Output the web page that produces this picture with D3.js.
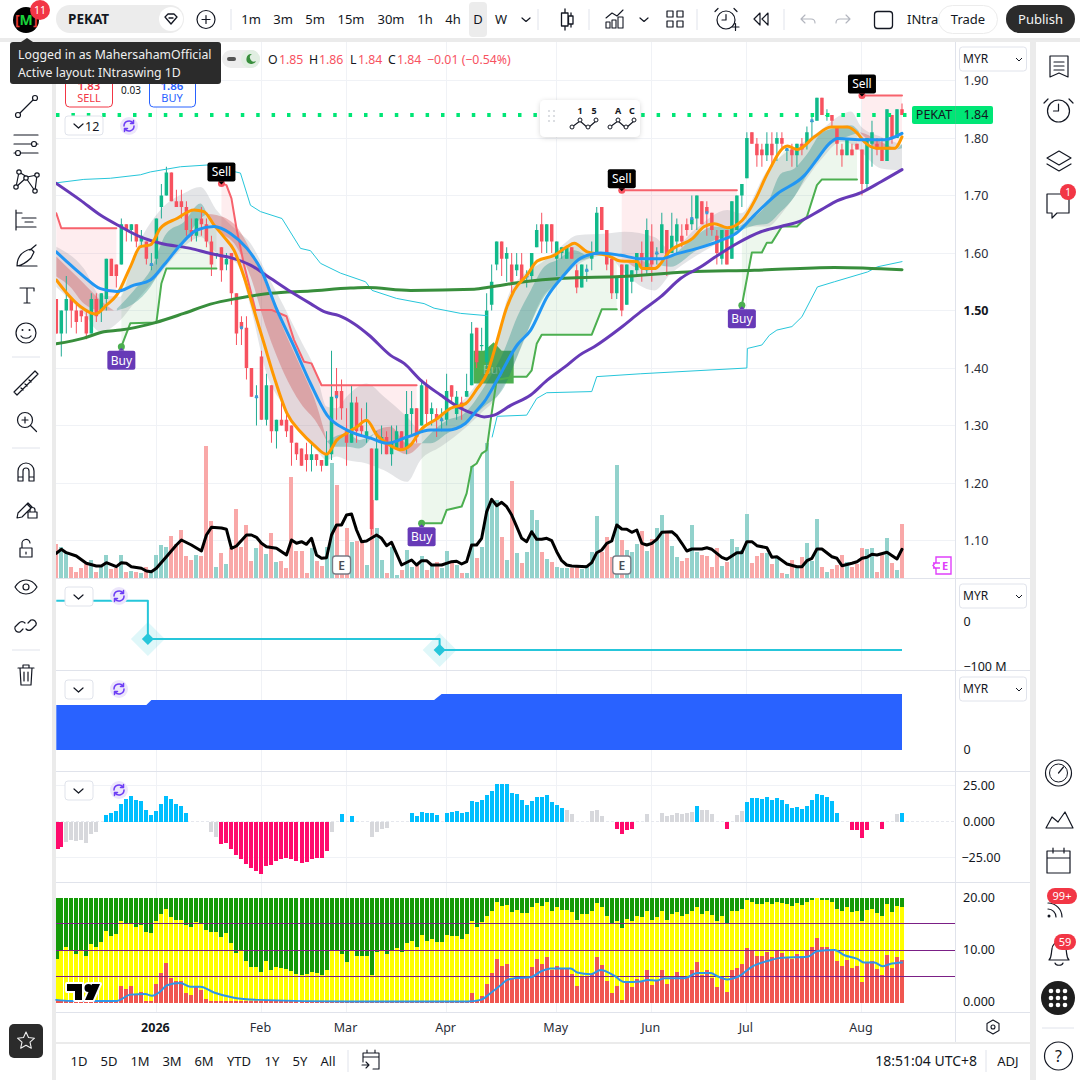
<!doctype html>
<html>
<head>
  <meta charset="utf-8">
  <style>
    html, body { margin: 0; padding: 0; background: #ebebeb; }
    svg { display: block; font-family: "Noto Sans", sans-serif; }
  </style>
  <script src="https://cdn.jsdelivr.net/npm/d3@7/dist/d3.min.js"></script>
</head>
<body>
<script>
// one value per bar
var opens = [1.52,1.46,1.50,1.52,1.50,1.50,1.49,1.46,1.52,1.50,1.52,1.59,1.58,1.58,1.65,1.64,1.65,1.62,1.62,1.58,
  1.59,1.68,1.70,1.74,1.69,1.69,1.68,1.64,1.63,1.66,1.65,1.62,1.60,1.61,1.58,1.60,1.53,1.48,1.47,1.40,
  1.35,1.42,1.31,1.37,1.29,1.31,1.31,1.30,1.27,1.26,1.25,1.24,1.25,1.24,1.23,1.25,1.36,1.36,1.29,1.27,
  1.34,1.30,1.28,1.26,1.17,1.27,1.28,1.25,1.26,1.29,1.26,1.32,1.33,1.30,1.37,1.32,1.32,1.31,1.31,1.37,
  1.32,1.34,1.35,1.37,1.47,1.44,1.41,1.51,1.58,1.62,1.59,1.58,1.57,1.58,1.56,1.56,1.61,1.65,1.62,1.65,
  1.59,1.60,1.59,1.61,1.57,1.54,1.57,1.59,1.60,1.68,1.64,1.59,1.53,1.58,1.51,1.55,1.57,1.60,1.57,1.62,
  1.60,1.60,1.64,1.60,1.62,1.63,1.65,1.65,1.66,1.69,1.68,1.67,1.63,1.59,1.64,1.59,1.64,1.70,1.73,1.81,
  1.79,1.78,1.77,1.79,1.79,1.80,1.78,1.78,1.77,1.79,1.79,1.83,1.83,1.87,1.84,1.84,1.82,1.78,1.77,1.78,
  1.79,1.78,1.72,1.79,1.79,1.78,1.76,1.84,1.80,1.85];
var highs = [1.52,1.50,1.56,1.52,1.51,1.50,1.50,1.53,1.53,1.53,1.59,1.59,1.58,1.66,1.65,1.65,1.65,1.64,1.62,1.60,
  1.66,1.72,1.75,1.74,1.71,1.71,1.69,1.66,1.66,1.68,1.66,1.63,1.60,1.61,1.60,1.60,1.53,1.49,1.49,1.40,
  1.37,1.43,1.39,1.37,1.31,1.34,1.32,1.30,1.27,1.26,1.27,1.27,1.25,1.24,1.29,1.43,1.40,1.38,1.33,1.37,
  1.35,1.33,1.34,1.26,1.29,1.30,1.29,1.30,1.30,1.29,1.36,1.36,1.33,1.38,1.38,1.34,1.33,1.33,1.39,1.37,
  1.36,1.35,1.39,1.48,1.47,1.47,1.53,1.58,1.62,1.62,1.61,1.60,1.60,1.60,1.57,1.60,1.65,1.67,1.65,1.65,
  1.62,1.61,1.61,1.61,1.58,1.58,1.58,1.62,1.68,1.68,1.64,1.59,1.56,1.58,1.58,1.57,1.60,1.62,1.66,1.65,
  1.61,1.67,1.64,1.67,1.66,1.65,1.66,1.70,1.70,1.69,1.69,1.67,1.64,1.64,1.64,1.69,1.70,1.72,1.81,1.81,
  1.80,1.79,1.81,1.81,1.81,1.81,1.78,1.79,1.79,1.80,1.82,1.84,1.87,1.87,1.85,1.84,1.82,1.79,1.80,1.79,
  1.79,1.78,1.80,1.83,1.80,1.80,1.85,1.84,1.85,1.86];
var lows = [1.46,1.42,1.46,1.47,1.46,1.48,1.45,1.46,1.48,1.48,1.50,1.56,1.54,1.58,1.62,1.62,1.61,1.61,1.58,1.57,
  1.58,1.66,1.70,1.69,1.68,1.66,1.63,1.62,1.62,1.63,1.61,1.56,1.59,1.55,1.57,1.51,1.44,1.44,1.38,1.35,
  1.30,1.31,1.30,1.27,1.26,1.30,1.28,1.23,1.24,1.23,1.22,1.22,1.23,1.22,1.23,1.24,1.31,1.31,1.23,1.27,
  1.27,1.28,1.27,1.11,1.17,1.25,1.25,1.23,1.26,1.26,1.25,1.28,1.27,1.30,1.30,1.30,1.28,1.29,1.30,1.34,
  1.31,1.31,1.35,1.37,1.40,1.43,1.40,1.50,1.57,1.56,1.55,1.53,1.56,1.55,1.54,1.55,1.61,1.60,1.60,1.60,
  1.56,1.59,1.59,1.59,1.53,1.54,1.55,1.57,1.60,1.64,1.57,1.52,1.52,1.49,1.51,1.53,1.56,1.55,1.56,1.55,
  1.58,1.60,1.56,1.60,1.60,1.61,1.63,1.64,1.64,1.65,1.63,1.63,1.58,1.58,1.58,1.59,1.64,1.68,1.73,1.79,
  1.75,1.75,1.76,1.75,1.76,1.78,1.76,1.75,1.75,1.77,1.78,1.80,1.83,1.84,1.83,1.82,1.77,1.75,1.77,1.77,
  1.78,1.70,1.71,1.75,1.77,1.76,1.76,1.79,1.80,1.84];
var closes = [1.46,1.50,1.52,1.50,1.48,1.49,1.46,1.52,1.49,1.53,1.59,1.56,1.56,1.65,1.64,1.65,1.62,1.63,1.59,1.58,
  1.66,1.70,1.74,1.69,1.68,1.68,1.64,1.63,1.66,1.65,1.62,1.58,1.60,1.57,1.59,1.53,1.46,1.47,1.40,1.35,
  1.35,1.31,1.37,1.29,1.31,1.30,1.29,1.27,1.25,1.23,1.24,1.25,1.24,1.23,1.25,1.35,1.35,1.33,1.27,1.34,
  1.29,1.29,1.29,1.12,1.26,1.28,1.25,1.27,1.29,1.26,1.32,1.33,1.28,1.37,1.32,1.33,1.31,1.31,1.36,1.35,
  1.35,1.33,1.36,1.46,1.41,1.44,1.50,1.55,1.62,1.59,1.60,1.55,1.58,1.55,1.56,1.60,1.64,1.62,1.65,1.62,
  1.62,1.61,1.61,1.59,1.54,1.58,1.57,1.60,1.67,1.64,1.58,1.53,1.56,1.50,1.58,1.57,1.60,1.59,1.64,1.58,
  1.60,1.65,1.59,1.63,1.65,1.62,1.64,1.66,1.70,1.65,1.67,1.64,1.60,1.64,1.58,1.69,1.70,1.72,1.80,1.79,
  1.77,1.77,1.79,1.77,1.80,1.79,1.78,1.77,1.79,1.78,1.81,1.83,1.87,1.84,1.84,1.83,1.79,1.77,1.80,1.77,
  1.78,1.72,1.80,1.81,1.78,1.76,1.85,1.80,1.85,1.84];
var volumes = [34,31,26,11,6,10,14,18,6,11,23,9,10,23,6,7,6,5,11,5,23,33,31,42,34,48,22,18,23,22,
  132,57,11,25,14,30,69,31,53,17,30,35,24,45,16,17,10,101,27,27,5,30,17,12,31,115,93,20,50,36,
  37,36,13,78,50,18,5,31,3,8,28,11,13,22,8,12,16,10,27,16,13,5,5,112,20,31,135,78,78,41,
  18,97,25,15,26,68,58,26,19,16,11,10,10,10,12,9,13,26,62,26,41,21,113,38,28,26,34,47,27,39,
  50,63,45,32,21,17,20,53,26,23,22,11,30,12,16,39,31,28,64,15,22,25,25,14,20,5,4,18,10,21,
  35,17,59,11,6,9,13,23,16,11,14,30,29,30,6,23,40,15,8,54];

// [bar, value] readings of the overlay lines
var blackLine = [[0,24.7],[1,28.7],[2,25.3],[4,22],[6,14.7],[8,12],[9,12],[10,15.3],[12,11.3],[13,15.3],[14,14.7],[15,11.3],[17,9.7],[18,7],[19,6.3],[20,9.7],[22,21.3],[24,33],[25,38],[27,33],[29,27],[30,43],[31,50.7],[33,50],[34,48.7],[35,29.7],[36,32],[38,43],[39,43],[40,40.7],[41,34.7],[42,31.3],[44,29.7],[46,23],[47,38],[48,34.7],[49,36.3],[50,33.7],[51,39.7],[52,23],[53,19.7],[54,20.3],[55,43],[56,53],[57,53],[58,63],[59,64],[60,48],[61,36.3],[62,37],[64,43],[65,39.7],[66,32.3],[67,35.7],[69,13],[71,18],[72,13],[73,17.3],[74,17.3],[75,13],[77,13],[79,16.3],[80,16.7],[81,14],[82,16.3],[83,33],[84,33],[85,39.7],[86,66.3],[87,78.7],[88,72.3],[89,75.7],[90,71.3],[91,63],[92,51.3],[93,39.7],[94,36.3],[95,46.3],[96,38.7],[97,38.7],[98,39.7],[99,37.3],[100,26.3],[101,17.3],[102,13],[103,12],[106,11.3],[107,15.3],[108,25.3],[109,28],[110,34.7],[111,37],[112,53],[113,49],[114,48.7],[115,45.7],[116,48],[117,34.7],[118,33],[119,34.7],[120,38.7],[121,45.7],[123,46.3],[124,42],[125,34.7],[126,27],[127,29],[129,29],[130,30.3],[131,28.7],[133,20.7],[134,18.7],[136,25.3],[137,25.3],[138,36.3],[139,36.3],[140,32.3],[142,30.3],[143,20.7],[144,21.3],[146,14],[148,11.3],[149,11.3],[150,17.3],[151,19.7],[152,29],[153,29],[155,21.3],[156,19.7],[157,12.3],[159,14.7],[160,16.3],[161,19.7],[162,20.7],[163,23.7],[164,23],[166,25.7],[168,19],[169,28.7]];
var purpleLine = [[0,1.721],[4.8,1.692],[8.8,1.666],[12.8,1.646],[16.8,1.628],[20.8,1.617],[26.8,1.608],[30.8,1.599],[34.8,1.592],[38.8,1.579],[42.8,1.556],[46.8,1.533],[50.8,1.512],[53.8,1.497],[56.5,1.491],[59.5,1.477],[62.5,1.457],[66.8,1.422],[69.5,1.408],[72.8,1.379],[76.8,1.353],[80.8,1.33],[83.5,1.32],[85.5,1.315],[87.5,1.318],[90.8,1.335],[94.8,1.353],[98.1,1.379],[102.1,1.405],[104.5,1.422],[107.5,1.437],[112.8,1.47],[116.8,1.498],[120.8,1.524],[124.8,1.556],[128.8,1.576],[131.5,1.592],[136.1,1.617],[140.8,1.637],[144.8,1.646],[148.8,1.656],[152.8,1.675],[156.1,1.691],[160.8,1.705],[164.8,1.724],[169,1.745]];
var orangeLine = [[0,1.553],[2.1,1.53],[4.8,1.507],[7.8,1.494],[10.1,1.51],[12.1,1.527],[14.8,1.576],[16.8,1.611],[18.8,1.614],[20.8,1.643],[24.1,1.66],[27.5,1.675],[29.5,1.672],[31.5,1.649],[33.5,1.628],[35.5,1.605],[37.5,1.559],[39.5,1.501],[41.5,1.443],[43.5,1.385],[46.1,1.321],[48.8,1.289],[51.5,1.266],[54,1.25],[56.1,1.275],[58.1,1.287],[60.1,1.298],[62,1.309],[64.1,1.283],[66.1,1.269],[68.8,1.258],[70.8,1.266],[72.8,1.292],[76.1,1.312],[78.8,1.33],[81.8,1.338],[84.1,1.364],[86.1,1.391],[88.1,1.448],[89.8,1.5],[91.5,1.535],[94.1,1.562],[96.1,1.586],[99.5,1.596],[102.1,1.611],[103.5,1.617],[106.1,1.602],[110.1,1.596],[112.8,1.586],[116.1,1.585],[117.1,1.573],[119.5,1.573],[122.8,1.605],[127.1,1.625],[129.5,1.646],[131.5,1.651],[134.1,1.644],[137.1,1.657],[139.8,1.695],[142.1,1.738],[146.1,1.786],[148.1,1.78],[151.5,1.802],[154.8,1.819],[158.1,1.819],[160.1,1.808],[161.5,1.793],[164.1,1.782],[167.5,1.782],[169,1.802]];
var blueLine = [[0,1.602],[2.1,1.585],[5.5,1.559],[8.8,1.538],[12.1,1.533],[15.5,1.544],[18.8,1.553],[21.5,1.579],[24.8,1.614],[28.1,1.64],[31.5,1.646],[34.8,1.634],[38.1,1.608],[40.8,1.573],[44.1,1.501],[47.5,1.437],[50.8,1.373],[54.1,1.318],[58.1,1.292],[62.8,1.278],[66.1,1.269],[70.1,1.28],[74.8,1.292],[78.1,1.292],[81.8,1.304],[83.5,1.321],[85.5,1.341],[88.1,1.379],[92.1,1.44],[94.8,1.466],[98.1,1.524],[101.5,1.562],[104.8,1.591],[108.8,1.6],[112.8,1.596],[116.8,1.59],[120.8,1.59],[124.1,1.599],[128.1,1.608],[132.8,1.622],[135.8,1.634],[139.5,1.666],[144.1,1.703],[149.5,1.735],[152.1,1.764],[154.8,1.793],[156.1,1.799],[161.5,1.797],[165.5,1.797],[169,1.808]];
var darkGreenLine = [[0,1.442],[5.5,1.452],[9.5,1.463],[12.8,1.466],[19.8,1.479],[25.5,1.495],[30.8,1.511],[36.1,1.521],[42.8,1.53],[50.8,1.534],[58.8,1.539],[62,1.54],[70.8,1.535],[83.5,1.537],[86.8,1.541],[93.5,1.55],[101.5,1.556],[112.8,1.559],[126.1,1.567],[139.5,1.57],[155.5,1.575],[169,1.571]];
var cyanUpper = [[0,1.722],[5.5,1.728],[10.8,1.73],[16.8,1.736],[18.8,1.741],[24.8,1.75],[30.1,1.753],[36.8,1.739],[38.8,1.683],[40.8,1.672],[45.1,1.66],[48.8,1.608],[50.8,1.604],[52.8,1.582],[56.8,1.565],[61.8,1.55],[63.1,1.535],[68,1.521],[73.5,1.512],[75.5,1.504],[80.8,1.495],[86.1,1.491]];
var cyanLower = [[87.1,1.28],[88.1,1.316],[94,1.318],[96,1.347],[98,1.357],[107,1.359],[108,1.385],[116.8,1.39],[138,1.40],[138.1,1.434],[141,1.44],[142.5,1.457],[144,1.466],[147,1.472],[149,1.489],[152.1,1.541],[155.5,1.55],[162.1,1.567],[164.1,1.576],[169,1.585]];

// trailing stops after each signal
var greenStop1 = [[13,1.437],[14.8,1.478],[20,1.479],[21,1.547],[22,1.573],[32,1.573]];
var greenStop2 = [[73,1.13],[77,1.13],[78,1.153],[81,1.159],[82,1.182],[83,1.228],[84,1.234],[85,1.251],[86,1.257],[87,1.321],[88,1.379],[91.5,1.385],[94,1.385],[95,1.396],[96,1.442],[97,1.458],[107,1.458],[109,1.502],[112,1.502]];
var greenStop3 = [[137,1.509],[139,1.601],[141,1.601],[142,1.618],[143,1.618],[145,1.646],[148,1.646],[150,1.663],[152,1.718],[153,1.728],[160,1.728]];
var redStop1 = [[0,1.669],[1,1.643],[12,1.643]];
var redStop2 = [[33,1.721],[34,1.718],[35,1.695],[36,1.643],[37.5,1.58],[39.8,1.501],[43,1.501],[46,1.49],[47.5,1.449],[49.5,1.411],[51,1.408],[53,1.37],[72,1.37]];
var redStop3 = [[113,1.709],[136,1.709]];
var redStop4 = [[161,1.874],[169,1.874]];

// [bar, upper, lower] of the ribbons
var grayBand = [[0,1.611,1.541],[5.5,1.573,1.495],[8.8,1.527,1.463],[12.8,1.524,1.483],[15.5,1.596,1.512],[20.8,1.675,1.565],[25.5,1.704,1.611],[28.8,1.715,1.628],[32,1.675,1.6],[36,1.64,1.582],[38.8,1.617,1.507],[42,1.565,1.391],[45.5,1.507,1.333],[48.8,1.449,1.286],[52,1.391,1.257],[54,1.333,1.24],[56,1.33,1.246],[58,1.35,1.24],[62,1.373,1.234],[65.5,1.35,1.222],[70.1,1.315,1.202],[72.8,1.292,1.24],[76.8,1.321,1.263],[82,1.35,1.298],[84.8,1.385,1.321],[88.1,1.448,1.35],[90,1.518,1.379],[93.5,1.564,1.448],[96.8,1.582,1.518],[100.8,1.611,1.553],[104.1,1.631,1.579],[110.1,1.634,1.596],[113.5,1.637,1.565],[119.5,1.628,1.535],[122.8,1.605,1.564],[127.5,1.64,1.593],[134.1,1.675,1.628],[136.8,1.669,1.646],[142.1,1.744,1.646],[145.5,1.773,1.675],[148.8,1.79,1.715],[152.8,1.814,1.762],[156.8,1.84,1.793],[158.8,1.846,1.79],[160.8,1.82,1.776],[164.8,1.802,1.747],[169,1.788,1.744]];
var tealBands = [
  [[12.1,1.503,1.5],[15.5,1.535,1.512],[18.8,1.57,1.541],[22,1.634,1.588],[25.5,1.654,1.62],[28.8,1.686,1.66],[30.1,1.668,1.668]],
  [[54.1,1.272,1.272],[55.5,1.28,1.263],[58.1,1.286,1.263],[60.5,1.275,1.26],[63.5,1.286,1.286]],
  [[73,1.269,1.269],[74.8,1.286,1.269],[78.1,1.309,1.286],[81.5,1.321,1.304],[85.5,1.367,1.333],[89.5,1.431,1.367],[92.1,1.489,1.42],[94.8,1.535,1.477],[97.5,1.576,1.524],[100.1,1.588,1.547],[103.5,1.605,1.582],[106.1,1.596,1.59],[107.5,1.594,1.594]],
  [[120,1.58,1.58],[122.8,1.593,1.576],[127.5,1.628,1.602],[131.5,1.646,1.622],[134.8,1.644,1.632],[139.5,1.663,1.648],[142.1,1.686,1.651],[144.8,1.738,1.672],[147.5,1.747,1.698],[150.1,1.773,1.738],[152.8,1.808,1.773],[155.5,1.817,1.793],[158.8,1.822,1.805],[160.5,1.81,1.81]],
  [[168,1.78,1.78],[169,1.79,1.782]]
];
var redBands = [
  [[0,1.594,1.559],[2.8,1.57,1.541],[5.5,1.547,1.512],[8.8,1.518,1.5],[11.5,1.5,1.5]],
  [[30.1,1.668,1.668],[32,1.666,1.643],[36,1.646,1.611],[38.8,1.605,1.559],[42.1,1.541,1.466],[45.5,1.466,1.391],[48.8,1.402,1.339],[52.1,1.333,1.304],[54.1,1.272,1.272]],
  [[63.5,1.286,1.286],[64.1,1.292,1.275],[66.8,1.298,1.263],[70.1,1.269,1.25],[73,1.269,1.269]],
  [[114,1.585,1.585],[116.1,1.588,1.575],[119,1.58,1.575]],
  [[160.5,1.81,1.81],[161.5,1.808,1.802],[164.8,1.793,1.779],[168,1.78,1.78]]
];

// pane values
var cvdSteps = [[0,47],[18.3,-38],[76.6,-62],[169,-62]];
var blueArea = [[0,45],[18,45],[19,50],[75.5,50],[77,56],[169,56]];
var momentum = [-19.4,-17.4,-13.9,-12.5,-13.2,-12.5,-14.6,-9,-7.6,0,4.2,5.6,7.6,12.5,15.3,17.4,14.6,13.9,8.3,4.2,
  7.6,12.5,17.4,15.3,12.5,11.1,5.6,0,0,0,0,-7.6,-11.1,-15.3,-14.6,-18.8,-23.6,-25.7,-29.2,-32.6,
  -34.7,-36.8,-30.6,-29.9,-27.1,-25.7,-25,-25.7,-27.1,-28.5,-27.8,-25.7,-25,-25,-20.8,-7.6,0,4.9,0,3.5,
  0,0,0,-11.1,-7.6,-4.9,-4.2,0,0,0,0,5.6,3.5,6.9,5.6,5.6,4.2,0,5.6,6.9,
  7.6,5.6,6.9,13.9,13.2,14.6,18.1,21.5,25.7,25.7,25.7,20.1,18.8,14.6,11.8,13.9,16.7,16.7,18.1,13.2,
  11.8,9.7,8.3,4.9,0,0,0,7.6,8.3,3.5,0,0,-4.9,-9,-6.2,-4.9,0,0,4.9,0,
  0,5.6,3.5,4.2,6.2,4.9,5.6,6.9,11.1,8.3,8.3,4.9,0,0,-4.9,0,4.2,7.6,13.2,16,
  16,15.3,16.7,14.6,16,14.6,12.5,9.7,10.4,9,11.1,14.6,19.4,18.1,16.7,13.9,6.2,0,0,-5.6,
  -6.2,-11.8,-6.2,0,0,-4.9,0,0,4.9,5.6];
var momentumRed = [0,1,33,34,35,36,37,38,39,40,41,42,43,44,45,46,47,48,49,50,51,52,53,54,112,113,114,115,134,159,160,161,162,165];
var momentumGray = [2,3,4,5,6,7,8,31,32,55,63,64,65,66,102,103,107,108,109,118,121,122,123,124,125,126,127,129,130,131,136,137,168];
var stackYellow = [8.3,9.8,10.5,10,9.3,9.8,8.8,11.1,10.5,11.5,13.6,12.6,13.1,15.5,15.1,15.2,14.3,14.7,13.4,13.2,
  15.6,16.8,17.9,16.2,15.8,15.8,14.7,14.3,15.3,15.1,13.9,13.4,13.4,12.4,13.2,11.3,9.4,9.8,7.9,6.8,
  6.8,5.8,7.9,6.2,6.8,6.6,6.4,6,5.4,5.2,5.4,5.8,5.6,5.2,6.2,9.8,9.8,9.2,7.7,10,
  8.8,8.8,8.8,5.2,9.6,9.8,9.2,9.8,10.3,9.6,11.3,11.7,10.5,12.8,11.7,12.1,11.5,11.5,12.8,12.6,
  12.6,12.1,13,15.5,14.3,15.3,16.4,17.5,19.1,18.3,18.5,17.2,17.7,17,17,18.1,18.9,18.3,19.1,17.5,
  18.1,17.7,17.7,17.2,15.8,16.8,16.8,17.4,18.9,18.1,16.4,15.1,15.6,14.1,16,15.6,16.4,16.2,17.4,15.8,
  16.2,17.4,15.8,16.8,17.2,16.4,16.8,17.4,18.1,16.8,17.4,16.6,15.5,16.4,15.1,17.4,17.5,17.9,19.6,19.2,
  18.7,18.7,19.1,18.7,19.1,18.9,18.7,18.3,18.9,18.5,19.2,19.6,20,19.6,19.6,19.2,17.9,17.4,18.1,17.2,
  17.5,15.6,17.7,17.9,17,16.4,18.7,17.2,18.3,18.1];
var stackRed = [0.5,0.2,0.2,0.2,0.2,0.2,0.2,0.2,0.2,0.2,0.2,0.2,0.2,3.2,2.6,3.2,1.5,2,0.2,0.2,
  3.5,5.6,7.5,4.7,4.1,4.1,1.8,1.5,3.2,2.4,0.7,0.2,0.2,0.2,0.2,0.2,0.2,0.2,0.2,0.2,
  0.2,0.2,0.2,0.2,0.2,0.2,0.2,0.2,0.2,0.2,0.2,0.2,0.2,0.2,0.2,0.2,0.2,0.2,0.2,0.2,
  0.2,0.2,0.2,0.2,0.2,0.2,0.2,0.2,0.2,0.2,0.2,0.2,0.2,0.2,0.2,0.2,0.2,0.2,0.2,0.2,
  0.2,0.2,0.2,1.8,0.2,1.3,3.5,5.6,8.3,6.9,7.3,4.7,4.9,5,4.7,6.8,8.3,7.3,8.6,6.2,
  6.9,6.6,6.6,5.4,3.2,4.9,4.9,5.4,8.6,7.1,4.1,1.8,3.2,0.5,3.9,3,4.5,3.9,6.2,3.3,
  4.1,6.2,3.5,5,5.8,4.9,5,6.2,7.7,5.2,6.2,4.7,3,4.9,2,6.2,6.6,7.3,10.3,9.8,
  8.8,8.8,9.6,8.6,9.8,9.4,8.6,8.3,9.2,8.8,9.8,10.5,12.2,10.5,10.5,10,7.9,6.9,8.1,6.6,
  6.9,3.9,7.5,7.9,6.4,5.2,9,6.6,8.6,8.1];
var stackLine = [[0,0.5],[2.8,0.3],[12.1,0.3],[14.8,1.5],[17.8,1.6],[19.1,1.3],[20.8,2.1],[22.1,3.3],[24.8,3.7],[26.8,3],[28.8,3],[31.5,1.9],[35.5,0.9],[40.1,0.5],[58.8,0.2],[82.1,0.2],[84.8,0.5],[86.8,1.8],[88.8,3.3],[90.1,4.3],[91.5,4.6],[94.8,4.8],[96.8,5.9],[98.8,6.5],[102.8,6.5],[104.1,5.7],[106.8,5.4],[108.8,6.2],[111.5,5.1],[113.5,3.9],[116.8,4],[118.1,4.3],[120.1,4.2],[121.5,4.6],[125.5,4.6],[128.1,5.6],[130.8,5.6],[132.1,5],[134.1,4.4],[136.8,5.2],[138.8,6.7],[142.1,7.9],[144.8,8.5],[150.1,8.7],[152.1,9.8],[155.5,10],[157.5,9],[160.1,8.3],[161.5,7.6],[163.5,7.6],[165.1,6.9],[166.5,7.3],[169,7.6]];

// axes and markers
var priceTicks = [1.9,1.8,1.7,1.6,1.5,1.4,1.3,1.2,1.1];
var monthBars = [20,41,58,78,100,119,138,161];
var monthLabels = ["2026","Feb","Mar","Apr","May","Jun","Jul","Aug"];
var stackLevels = [15,10,5];
var sellBars = [33,113,161];
var sellPrices = [1.721,1.709,1.874];
var buyBars = [13,73,137];
var buyPrices = [1.437,1.13,1.509];
var earningsBars = [57,113];
var dojiBars = [19,37,40,56,77,94,106,120,127,130,146,151];
var lastPrice = 1.84;

var W = 1080, H = 1080, LEFT = 56, AXIS = 955, RIGHT = 1030;
var INK = "#131722";

var svg = d3.select("body").append("svg").attr("width", W).attr("height", H);

var x = d3.scaleLinear().domain([0, 169]).range([56.3, 902]);
var yPrice = d3.scaleLinear().domain([1.8, 1.1]).range([138, 540.5]);
var yVol = d3.scaleLinear().domain([0, 150]).range([578, 428]);
var yCvd = d3.scaleLinear().domain([0, -100]).range([622, 667]);
var yArea = d3.scaleLinear().domain([0, 100]).range([750, 650]);
var yMom = d3.scaleLinear().domain([25, -25]).range([785.5, 857.5]);
var yStack = d3.scaleLinear().domain([0, 20]).range([1002.5, 897.5]);

// background and panels
svg.append("rect").attr("width", W).attr("height", H).attr("fill", "#ebebeb");
function panel(a, b, c, d) {
  svg.append("rect").attr("x", a).attr("y", b).attr("width", c - a).attr("height", d - b).attr("fill", "#fff");
}
panel(0, 0, W, 38);
panel(0, 42, 52, H);
panel(LEFT, 42, RIGHT, 1042);
panel(LEFT, 1044, RIGHT, H);
panel(1036, 42, W, H);

var defs = svg.append("defs");
defs.append("clipPath").attr("id", "plot").append("rect").attr("x", LEFT).attr("y", 42).attr("width", AXIS - LEFT).attr("height", 536);
var shadow = defs.append("filter").attr("id", "soft").attr("x", "-20%").attr("y", "-30%").attr("width", "140%").attr("height", "160%");
shadow.append("feDropShadow").attr("dx", 0).attr("dy", 1).attr("stdDeviation", 2.5).attr("flood-color", "#000").attr("flood-opacity", 0.16);

// grid
var grid = svg.append("g").attr("stroke", "#f0f2f6").attr("stroke-width", 1).attr("shape-rendering", "crispEdges");
monthBars.forEach(function(b) {
  grid.append("line").attr("x1", x(b)).attr("x2", x(b)).attr("y1", 42).attr("y2", 1012);
});
priceTicks.forEach(function(p) {
  grid.append("line").attr("x1", LEFT).attr("x2", AXIS).attr("y1", yPrice(p)).attr("y2", yPrice(p));
});
[25, -25].forEach(function(v) {
  grid.append("line").attr("x1", LEFT).attr("x2", AXIS).attr("y1", yMom(v)).attr("y2", yMom(v));
});
var seps = svg.append("g").attr("stroke", "#e0e3eb");
[578.5, 670.5, 771.5, 882.5, 1012.5].forEach(function(v) {
  seps.append("line").attr("x1", LEFT).attr("x2", RIGHT).attr("y1", v).attr("y2", v);
});
seps.append("line").attr("x1", AXIS + 0.5).attr("x2", AXIS + 0.5).attr("y1", 42).attr("y2", 1042);

var plot = svg.append("g").attr("clip-path", "url(#plot)");
var bars = d3.range(opens.length);
var lineOf = function(scale, curve) {
  return d3.line().x(function(d) { return x(d[0]); }).y(function(d) { return scale(d[1]); }).curve(curve || d3.curveMonotoneX);
};
function drawLine(target, data, scale, color, width, curve) {
  return target.append("path").datum(data).attr("fill", "none").attr("stroke", color).attr("stroke-width", width)
    .attr("stroke-linejoin", "round").attr("stroke-linecap", "round").attr("d", lineOf(scale, curve));
}

// volume
plot.append("g").attr("shape-rendering", "crispEdges").selectAll("rect").data(bars).enter().append("rect")
  .attr("x", function(i) { return x(i) - 2; }).attr("width", 4)
  .attr("y", function(i) { return yVol(volumes[i]); })
  .attr("height", function(i) { return yVol(0) - yVol(volumes[i]); })
  .attr("fill", function(i) { return closes[i] >= opens[i] ? "#92d2cc" : "#f9a8a8"; });

// signal fills between the stop and the fast line
var orangeAt = d3.scaleLinear().domain(orangeLine.map(function(d) { return d[0]; })).range(orangeLine.map(function(d) { return d[1]; }));
function stopFill(stop, color) {
  var stopAt = d3.scaleLinear().domain(stop.map(function(d) { return d[0]; })).range(stop.map(function(d) { return d[1]; }));
  var xs = d3.merge([stop.map(function(d) { return d[0]; }), d3.range(stop[0][0], stop[stop.length - 1][0])]).sort(d3.ascending);
  plot.append("path").datum(xs).attr("fill", color)
    .attr("d", d3.area().x(function(d) { return x(d); })
      .y0(function(d) { return yPrice(stopAt(d)); })
      .y1(function(d) { return yPrice(orangeAt(d)); }));
}
stopFill(greenStop1, "rgba(76,175,80,0.1)");
stopFill(greenStop2, "rgba(76,175,80,0.1)");
stopFill(greenStop3, "rgba(76,175,80,0.1)");
stopFill(redStop1, "rgba(247,82,95,0.1)");
stopFill(redStop2, "rgba(247,82,95,0.1)");
stopFill(redStop3, "rgba(247,82,95,0.1)");
stopFill(redStop4, "rgba(247,82,95,0.1)");

// large flat buy label that sits under the ribbons
var bigBuy = plot.append("g");
bigBuy.append("path").attr("fill", "#4caf50").attr("d", d3.line()([
  [x(83.4), yPrice(1.43)], [x(85.5), yPrice(1.43)], [x(87.4), yPrice(1.445)], [x(89), yPrice(1.43)],
  [x(91.4), yPrice(1.43)], [x(91.4), yPrice(1.373)], [x(83.4), yPrice(1.373)]]) + "Z");
bigBuy.append("text").attr("x", x(87.4)).attr("y", yPrice(1.39)).attr("text-anchor", "middle").attr("font-size", 12)
  .attr("fill", "rgba(255,255,255,0.45)").text("Buy");

// ribbons
var band = d3.area().x(function(d) { return x(d[0]); }).y0(function(d) { return yPrice(d[2]); }).y1(function(d) { return yPrice(d[1]); }).curve(d3.curveMonotoneX);
plot.append("path").datum(grayBand).attr("fill", "rgba(120,123,134,0.2)").attr("d", band);
tealBands.forEach(function(b) { plot.append("path").datum(b).attr("fill", "rgba(8,130,120,0.3)").attr("d", band); });
redBands.forEach(function(b) { plot.append("path").datum(b).attr("fill", "rgba(200,50,50,0.3)").attr("d", band); });

// candles
var candles = plot.selectAll(".candle").data(bars).enter().append("g");
candles.append("line")
  .attr("x1", function(i) { return x(i); }).attr("x2", function(i) { return x(i); })
  .attr("y1", function(i) { return yPrice(highs[i]); }).attr("y2", function(i) { return yPrice(lows[i]); })
  .attr("stroke", function(i) { return closes[i] >= opens[i] ? "#22ab94" : "#f7525f"; });
candles.append("rect")
  .attr("x", function(i) { return x(i) - 1.75; }).attr("width", 3.5)
  .attr("y", function(i) { return yPrice(Math.max(opens[i], closes[i])); })
  .attr("height", function(i) { return Math.max(1.2, Math.abs(yPrice(opens[i]) - yPrice(closes[i]))); })
  .attr("fill", function(i) { return closes[i] >= opens[i] ? "#10b98a" : "#f7525f"; });
plot.selectAll(".doji").data(dojiBars).enter().append("rect")
  .attr("x", function(i) { return x(i) - 1.5; }).attr("width", 3)
  .attr("y", function(i) { return yPrice(closes[i]) - 1.5; }).attr("height", 3)
  .attr("fill", "#3f9ad8");

// thin lines and stops
drawLine(plot, cyanUpper, yPrice, "#26c6da", 1, d3.curveLinear);
drawLine(plot, cyanLower, yPrice, "#26c6da", 1, d3.curveLinear);
[redStop1, redStop2, redStop3, redStop4].forEach(function(s) { drawLine(plot, s, yPrice, "#f7626c", 2, d3.curveLinear); });
[greenStop1, greenStop2, greenStop3].forEach(function(s) { drawLine(plot, s, yPrice, "#4caf50", 2, d3.curveLinear); });

// moving averages
drawLine(plot, darkGreenLine, yPrice, "#388e3c", 3);
drawLine(plot, purpleLine, yPrice, "#673ab7", 3);
drawLine(plot, orangeLine, yPrice, "#ff9800", 3);
drawLine(plot, blueLine, yPrice, "#2196f3", 3);
drawLine(plot, blackLine, yVol, "#000", 3, d3.curveLinear);

// last price dots
svg.append("line").attr("x1", LEFT).attr("x2", 912).attr("y1", yPrice(lastPrice)).attr("y2", yPrice(lastPrice))
  .attr("stroke", "#00e676").attr("stroke-width", 4).attr("stroke-dasharray", "3.5 11.9");

// text helper
function text(parent, px, py, str, o) {
  o = o || {};
  return parent.append("text").attr("x", px).attr("y", py).text(str)
    .attr("font-size", o.size || 13).attr("fill", o.fill || INK).attr("text-anchor", o.anchor || "start")
    .attr("font-weight", o.weight || 400);
}

// signal labels
function signal(bar, price, label, bg, dotColor, above) {
  var cx = x(bar), cy = yPrice(price), g = svg.append("g");
  g.append("circle").attr("cx", cx).attr("cy", cy).attr("r", 3.5).attr("fill", dotColor);
  var top = above ? cy - 21 : cy + 4;
  g.append("rect").attr("x", cx - 14).attr("y", top).attr("width", 28).attr("height", 19).attr("rx", 2).attr("fill", bg);
  g.append("path").attr("fill", bg).attr("d", above
    ? "M" + (cx - 3) + " " + (top + 19) + "L" + cx + " " + (top + 22) + "L" + (cx + 3) + " " + (top + 19) + "Z"
    : "M" + (cx - 3) + " " + top + "L" + cx + " " + (top - 3) + "L" + (cx + 3) + " " + top + "Z");
  text(g, cx, top + 14, label, { size: 12, fill: "#fff", anchor: "middle" });
}
sellBars.forEach(function(b, k) { signal(b, sellPrices[k], "Sell", "#000", "#f7525f", true); });
buyBars.forEach(function(b, k) { signal(b, buyPrices[k], "Buy", "#673ab7", "#4caf50", false); });

// earnings markers
earningsBars.forEach(function(b) {
  var g = svg.append("g");
  g.append("rect").attr("x", x(b) - 9).attr("y", 556).attr("width", 18).attr("height", 18).attr("rx", 3)
    .attr("fill", "#fff").attr("stroke", "#787b86").attr("stroke-width", 1.3);
  text(g, x(b), 570, "E", { size: 12, anchor: "middle", fill: "#4a4d55", weight: 600 });
});
var ePink = svg.append("g").attr("stroke", "#e040fb").attr("fill", "none").attr("stroke-width", 1.4);
ePink.append("path").attr("d", "M936 557h15v17h-15v-5l-3-3.5 3-3.5zM933 563h7M933 568h7");
text(svg, 942, 570, "E", { size: 11, fill: "#e040fb", weight: 700 });

// pane 2, step line
drawLine(svg, cvdSteps, yCvd, "#26c6da", 2, d3.curveStepAfter).attr("stroke-linecap", "butt");
cvdSteps.slice(1, 3).forEach(function(d) {
  var px = x(d[0]), py = yCvd(d[1]);
  svg.append("path").attr("d", "M" + (px - 17) + " " + py + "L" + px + " " + (py - 17) + "L" + (px + 17) + " " + py + "L" + px + " " + (py + 17) + "Z")
    .attr("fill", "rgba(38,198,218,0.15)");
  svg.append("path").attr("d", "M" + (px - 6) + " " + py + "L" + px + " " + (py - 6) + "L" + (px + 6) + " " + py + "L" + px + " " + (py + 6) + "Z")
    .attr("fill", "#26c6da");
});

// pane 3, filled block
svg.append("path").datum(blueArea).attr("fill", "#2962ff")
  .attr("d", d3.area().x(function(d) { return x(d[0]); }).y0(yArea(0)).y1(function(d) { return yArea(d[1]); }));

// pane 4, histogram
svg.append("line").attr("x1", LEFT).attr("x2", AXIS).attr("y1", yMom(0)).attr("y2", yMom(0))
  .attr("stroke", "#e6e8ee").attr("stroke-dasharray", "3 2");
svg.append("g").attr("shape-rendering", "crispEdges").selectAll("rect").data(bars).enter().append("rect")
  .attr("x", function(i) { return Math.max(LEFT, x(i) - 2); }).attr("width", 4)
  .attr("y", function(i) { return yMom(Math.max(momentum[i], 0)); })
  .attr("height", function(i) { return Math.abs(yMom(momentum[i]) - yMom(0)); })
  .attr("fill", function(i) {
    if (momentumRed.indexOf(i) >= 0) return "#ff0a6c";
    if (momentumGray.indexOf(i) >= 0) return "#d7d8dc";
    return "#00bfff";
  });

// pane 5, stacked bars
var stack = svg.append("g").attr("shape-rendering", "crispEdges").selectAll("g").data(bars).enter().append("g");
stack.append("rect").attr("x", function(i) { return Math.max(LEFT, x(i) - 2); }).attr("width", 4)
  .attr("y", yStack(20)).attr("height", function(i) { return yStack(stackYellow[i]) - yStack(20); }).attr("fill", "#149a07");
stack.append("rect").attr("x", function(i) { return Math.max(LEFT, x(i) - 2); }).attr("width", 4)
  .attr("y", function(i) { return yStack(stackYellow[i]); })
  .attr("height", function(i) { return yStack(stackRed[i]) - yStack(stackYellow[i]); }).attr("fill", "#ffff00");
stack.append("rect").attr("x", function(i) { return Math.max(LEFT, x(i) - 2); }).attr("width", 4)
  .attr("y", function(i) { return yStack(stackRed[i]); })
  .attr("height", function(i) { return yStack(0) - yStack(stackRed[i]); }).attr("fill", "#f05650");
stackLevels.forEach(function(v) {
  svg.append("line").attr("x1", LEFT).attr("x2", AXIS).attr("y1", yStack(v)).attr("y2", yStack(v))
    .attr("stroke", "#7b1f86").attr("stroke-width", 1).attr("shape-rendering", "crispEdges");
});
drawLine(svg, stackLine, yStack, "#2e96e8", 2);

// trading view badge
function tvMark(g, halo) {
  var t = g.append("path").attr("d", "M67 984h15v16h-7v-9h-8z");
  var s = g.append("path").attr("d", "M92 984h8l-7 16h-8z");
  var c = g.append("circle").attr("cx", 88.5).attr("cy", 988).attr("r", 4);
  [t, s, c].forEach(function(m) {
    m.attr("fill", halo ? "#fff" : "#000");
    if (halo) m.attr("stroke", "#fff").attr("stroke-width", 4).attr("stroke-linejoin", "round");
  });
}
var tv = svg.append("g");
tvMark(tv, true);
tvMark(tv, false);

// price axis text
priceTicks.forEach(function(p) {
  text(svg, 976, yPrice(p) + 4.5, p.toFixed(2), { anchor: "middle", size: 12.5, fill: p === 1.5 ? INK : "#2a2e39", weight: p === 1.5 ? 700 : 400 });
});
text(svg, 967, 626, "0", { size: 12.5, anchor: "middle" });
text(svg, 985, 671, "\u2212100 M", { size: 12.5, anchor: "middle" });
text(svg, 967, 754, "0", { size: 12.5, anchor: "middle" });
text(svg, 979, 790, "25.00", { size: 12.5, anchor: "middle" });
text(svg, 979, 826, "0.000", { size: 12.5, anchor: "middle" });
text(svg, 981, 862, "\u221225.00", { size: 12.5, anchor: "middle" });
text(svg, 979, 902, "20.00", { size: 12.5, anchor: "middle" });
text(svg, 979, 954, "10.00", { size: 12.5, anchor: "middle" });
text(svg, 979, 1006, "0.000", { size: 12.5, anchor: "middle" });

// price tag
var tag = svg.append("g");
tag.append("rect").attr("x", 912).attr("y", 106).attr("width", 81).attr("height", 18).attr("rx", 2).attr("fill", "#00e676");
tag.append("line").attr("x1", 955.5).attr("x2", 955.5).attr("y1", 106).attr("y2", 124).attr("stroke", "#2bd07f");
text(tag, 934, 119, "PEKAT", { size: 12.5, anchor: "middle" });
text(tag, 976, 119, lastPrice.toFixed(2), { size: 12.5, anchor: "middle" });

// currency boxes
function currency(py) {
  svg.append("rect").attr("x", 959.5).attr("y", py).attr("width", 67).attr("height", 24).attr("rx", 3)
    .attr("fill", "#fff").attr("stroke", "#e0e3eb");
  text(svg, 963, py + 16, "MYR", { size: 12 });
  svg.append("path").attr("d", "M1016 " + (py + 11) + "l3 3 3-3").attr("fill", "none").attr("stroke", INK);
}
currency(47); currency(584); currency(677);

// month labels
monthLabels.forEach(function(m, k) {
  text(svg, x(monthBars[k]) - 1, 1032, m, { anchor: "middle", size: 12.5, weight: k === 0 ? 700 : 400, fill: k === 0 ? INK : "#2a2e39" });
});

// icons are plain strokes
function icon(d, sw, color) {
  return svg.append("path").attr("d", d).attr("fill", "none").attr("stroke", color || INK)
    .attr("stroke-width", sw || 1.2).attr("stroke-linecap", "round").attr("stroke-linejoin", "round");
}
function ring(cx, cy, r, color, sw) {
  return svg.append("circle").attr("cx", cx).attr("cy", cy).attr("r", r).attr("fill", "#fff").attr("stroke", color || INK).attr("stroke-width", sw || 1.2);
}

// sync and pane controls
function sync(cx, cy) {
  svg.append("circle").attr("cx", cx).attr("cy", cy).attr("r", 9).attr("fill", "#ece6fb");
  icon("M" + (cx - 5) + " " + cy + "a5 5 0 0 1 9-3M" + (cx + 5) + " " + cy + "a5 5 0 0 1-9 3M" + (cx + 4.5) + " " + (cy - 5.5) + "v3h-3M" + (cx - 4.5) + " " + (cy + 5.5) + "v-3h3", 1.5, "#6d3df5");
}
function chevronBox(bx, by, label) {
  var w = label ? 38 : 28;
  svg.append("rect").attr("x", bx).attr("y", by).attr("width", w).attr("height", 19).attr("rx", 3).attr("fill", "#fff").attr("stroke", "#e0e3eb");
  icon("M" + (bx + 9) + " " + (by + 8) + "l4.5 4 4.5-4", 1.2);
  if (label) text(svg, bx + 20, by + 15, label, { size: 12.5 });
}
chevronBox(65, 116, "12"); sync(129, 126);
chevronBox(65, 587); sync(119, 596);
chevronBox(65, 680); sync(119, 689);
chevronBox(65, 781); sync(119, 790);

// legend row
var legend = [["O", 268], ["1.85", 279], ["H", 309], ["1.86", 319], ["L", 350], ["1.84", 358], ["C", 388], ["1.84", 397], ["\u22120.01 (\u22120.54%)", 427]];
legend.forEach(function(d, k) {
  text(svg, d[1], 64, d[0], { size: 12.3, fill: k % 2 === 0 && k < 8 ? INK : "#f7525f" });
});
svg.append("rect").attr("x", 222).attr("y", 50).attr("width", 38).attr("height", 18).attr("rx", 9).attr("fill", "#ededed");
svg.append("rect").attr("x", 241).attr("y", 50).attr("width", 19).attr("height", 18).attr("rx", 9).attr("fill", "#e1eee2");
svg.append("rect").attr("x", 227).attr("y", 57).attr("width", 9).attr("height", 4).attr("rx", 2).attr("fill", "#555");
svg.append("path").attr("fill", "#388e3c").attr("d", "M252 54a5 5 0 1 0 4 7a4 4 0 1 1-4-7z");

// buy/sell buttons, partly under the tooltip
svg.append("rect").attr("x", 65.5).attr("y", 70).attr("width", 47).attr("height", 37).attr("rx", 4).attr("fill", "#fff").attr("stroke", "#f23645");
svg.append("rect").attr("x", 149.5).attr("y", 70).attr("width", 46).attr("height", 37).attr("rx", 4).attr("fill", "#fff").attr("stroke", "#2962ff");
text(svg, 89, 90, "1.83", { size: 11.5, fill: "#f23645", anchor: "middle", weight: 600 });
text(svg, 172, 90, "1.86", { size: 11.5, fill: "#2962ff", anchor: "middle", weight: 600 });
text(svg, 89, 102, "SELL", { size: 11, fill: "#f23645", anchor: "middle" });
text(svg, 172, 102, "BUY", { size: 11, fill: "#2962ff", anchor: "middle" });
text(svg, 131, 94, "0.03", { size: 10, anchor: "middle" });

// tooltip
svg.append("path").attr("fill", "#2b2b2b").attr("d", "M21 42l6-4 6 4z");
svg.append("rect").attr("x", 10).attr("y", 42).attr("width", 211).attr("height", 42).attr("rx", 3).attr("fill", "#2b2b2b");
text(svg, 18, 59, "Logged in as MahersahamOfficial", { size: 12.3, fill: "#f0f0f0" });
text(svg, 18, 77, "Active layout: INtraswing 1D", { size: 12.3, fill: "#f0f0f0" });

// drawing widget
svg.append("rect").attr("x", 540).attr("y", 100).attr("width", 100).attr("height", 37).attr("rx", 5).attr("fill", "#fff").attr("filter", "url(#soft)");
svg.append("g").attr("fill", "#d4d6db").selectAll("circle").data([[549,111],[554,111],[549,116],[554,116],[549,121],[554,121]]).enter().append("circle")
  .attr("cx", function(d) { return d[0]; }).attr("cy", function(d) { return d[1]; }).attr("r", 1.1);
function zigzag(ox) {
  icon("M" + ox + " 127l8-6 8 7 8-7", 1.1);
  [[ox, 127], [ox + 8, 120], [ox + 16, 127], [ox + 24, 120]].forEach(function(p) { ring(p[0], p[1], 2, INK, 1); });
}
zigzag(572); zigzag(610);
text(svg, 580, 114, "1", { size: 9, anchor: "middle", weight: 700 });
text(svg, 594, 114, "5", { size: 9, anchor: "middle", weight: 700 });
text(svg, 618, 114, "A", { size: 9, anchor: "middle", weight: 700 });
text(svg, 632, 114, "C", { size: 9, anchor: "middle", weight: 700 });

// top bar
svg.append("circle").attr("cx", 26).attr("cy", 20).attr("r", 13).attr("fill", "#000");
text(svg, 26, 25, "M", { size: 14, anchor: "middle", fill: "#19d13a", weight: 700 });
text(svg, 15, 25, "[", { size: 14, fill: "#e53935", weight: 700 });
text(svg, 33, 25, "]", { size: 14, fill: "#e53935", weight: 700 });
svg.append("circle").attr("cx", 40).attr("cy", 10).attr("r", 10).attr("fill", "#f23645");
text(svg, 40, 14, "11", { size: 10.5, fill: "#fff", anchor: "middle" });
svg.append("rect").attr("x", 56).attr("y", 5).attr("width", 128).attr("height", 28).attr("rx", 14).attr("fill", "#ececec");
text(svg, 68, 24, "PEKAT", { size: 13.5, weight: 700 });
svg.append("circle").attr("cx", 171).attr("cy", 19).attr("r", 12).attr("fill", "#fff");
icon("M165 17l3-3h6l3 3-6 7zM169 18h4", 1.3);
ring(206, 19.5, 9);
icon("M202 19.5h8M206 15.5v8");
var intervals = [["1m", 251], ["3m", 283], ["5m", 315], ["15m", 351], ["30m", 391], ["1h", 425], ["4h", 453]];
intervals.forEach(function(d) { text(svg, d[1], 24, d[0], { size: 13, anchor: "middle" }); });
svg.append("rect").attr("x", 469).attr("y", 2).attr("width", 18).attr("height", 35).attr("rx", 4).attr("fill", "#ececec");
text(svg, 478, 24, "D", { size: 13, anchor: "middle" });
text(svg, 501, 24, "W", { size: 13, anchor: "middle" });
icon("M522 18l4 3.5 4-3.5");
[231, 538, 589, 697, 784].forEach(function(d) {
  svg.append("line").attr("x1", d).attr("x2", d).attr("y1", 9).attr("y2", 30).attr("stroke", "#e0e3eb");
});
icon("M565 9v4M565 26v4M571 13v3M571 24v3M561.5 13h6.5v13h-6.5zM568.5 16h4.5v8h-4.5z", 1.3);
icon("M606 18l6-5 5 3 6-6M606 28v-6h4v6zM612 28v-8h4v8zM618 28v-11h5v11z", 1.1);
icon("M640 18l4 3.5 4-3.5");
icon("M667 11h6v6h-6zM677 11h6v6h-6zM667 21h6v6h-6zM677 21h6v6h-6z", 1.2);
ring(726, 20, 9);
icon("M726 14.5v5.5h-4M718 8.5l-3 3M734 8.5l3 3M732 27h7M735.5 23.5v7", 1.2);
icon("M760 13l-6 6 6 6zM768 13l-6 6 6 6z", 1.2);
icon("M801 19h10c3 0 4 2 4 4M801 19l4-4M801 19l4 4", 1.1, "#b2b5be");
icon("M850 19h-10c-3 0-4 2-4 4M850 19l-4-4M850 19l-4 4", 1.1, "#b2b5be");
svg.append("rect").attr("x", 874.5).attr("y", 11.5).attr("width", 18).attr("height", 17).attr("rx", 3).attr("fill", "none").attr("stroke", INK).attr("stroke-width", 1.3);
text(svg, 907, 24, "INtra", { size: 13 });
svg.append("rect").attr("x", 938.5).attr("y", 5.5).attr("width", 59).attr("height", 28).attr("rx", 14).attr("fill", "#fff").attr("stroke", "#ececec");
text(svg, 968, 24, "Trade", { size: 13, anchor: "middle" });
svg.append("rect").attr("x", 1006).attr("y", 5).attr("width", 69).attr("height", 28).attr("rx", 14).attr("fill", "#2b2b2b");
text(svg, 1040.5, 24, "Publish", { size: 13, anchor: "middle", fill: "#f5f5f5" });

// left toolbar
icon("M18 115l18-18", 1.2); ring(18, 115, 2.5); ring(35, 98, 2.5);
icon("M14 135h24M14 144h24M14 153h24"); ring(34, 144, 2.5); ring(18, 153, 2.5);
icon("M19 172l-3 15 10-9 9 13 2-16-10 2-8-5"); [[19,172],[16,187],[26,178],[35,191],[37,175]].forEach(function(p) { ring(p[0], p[1], 2.2); });
icon("M16 210v20M16 213h6M16 227h20M22 218h14M25 222h8");
icon("M17 266c0-10 6-15 14-17l3 3-3 6c-3 3-8 7-14 8zM30 250l6-5M19 266h18");
icon("M20 288h14v3M27 288v15M24 303h6");
ring(26, 333, 10); icon("M21 336c2 3 8 3 10 0"); svg.append("circle").attr("cx", 22.5).attr("cy", 330).attr("r", 1).attr("fill", INK); svg.append("circle").attr("cx", 29.5).attr("cy", 330).attr("r", 1).attr("fill", INK);
[357, 448].forEach(function(d) { svg.append("line").attr("x1", 12).attr("x2", 40).attr("y1", d).attr("y2", d).attr("stroke", "#e0e3eb"); });
icon("M17 395l-3-3 21-21 3 3zM21 388l2 2M25 384l2 2M29 380l2 2");
ring(25, 420, 7.5); icon("M30.5 425.5l6 6M25 417v6M22 420h6");
icon("M18 481v-10a8 8 0 0 1 16 0v10h-5v-10a3 3 0 0 0-6 0v10zM18 477h5M29 477h5");
icon("M17 518l1-5 10-10 4 4-10 10zM27 504l4 4M28 518h9v-6h-9zM30 512v-2a2.5 2.5 0 0 1 5 0v2");
icon("M20 557h12v-9H20zM22 548v-4a4 4 0 0 1 8-1M26 552v2");
icon("M15 587c3-5 7-7 11-7s8 2 11 7c-3 5-7 7-11 7s-8-2-11-7z"); ring(26, 587, 3);
icon("M23 629l-3 3a4 4 0 0 1-5-5l4-4a4 4 0 0 1 6 0M28 623l3-3a4 4 0 0 1 5 5l-4 4a4 4 0 0 1-6 0");
svg.append("line").attr("x1", 12).attr("x2", 40).attr("y1", 650).attr("y2", 650).attr("stroke", "#e0e3eb");
icon("M18 668h16M20 668l1 17h10l1-17M23 668v-3h6v3M24 672v9M28 672v9");
svg.append("rect").attr("x", 9).attr("y", 1024).attr("width", 34).attr("height", 34).attr("rx", 5).attr("fill", "#2b2b2b");
icon("M26 1032l2.5 5.5 6 .7-4.5 4 1.3 6-5.3-3-5.3 3 1.3-6-4.5-4 6-.7z", 1.1, "#f0f0f0");

// right toolbar
icon("M1050 56h18v21l-9-4-9 4zM1054 62h10M1054 66h10M1054 70h10");
ring(1058.5, 111, 11); icon("M1058.5 104v7h-5M1048 99l-4 4M1069 99l4 4");
icon("M1047 158l12-7 12 7-12 7zM1047 164l12 7 12-7");
icon("M1047 194h22v19h-12l-5 5v-5h-5z");
svg.append("circle").attr("cx", 1068).attr("cy", 192).attr("r", 8).attr("fill", "#f23645");
text(svg, 1068, 196, "1", { size: 10, fill: "#fff", anchor: "middle" });
ring(1058.5, 773, 13); ring(1058.5, 773, 9, INK, 1); icon("M1058.5 773l5-6");
icon("M1046 828l6-11 6 5 7-10 8 16zM1046 828h27");
icon("M1047 851h23v22h-23zM1047 858h23M1053 848v5M1064 848v5");
icon("M1048 903a14 14 0 0 1 14 14M1048 909a8 8 0 0 1 8 8"); svg.append("circle").attr("cx", 1049).attr("cy", 916).attr("r", 1.5).attr("fill", INK);
svg.append("rect").attr("x", 1047).attr("y", 888).attr("width", 30).attr("height", 16).attr("rx", 8).attr("fill", "#f23645");
text(svg, 1062, 900, "99+", { size: 11, fill: "#fff", anchor: "middle" });
icon("M1049 960c3-3 2-7 3-11a7 7 0 0 1 14 0c1 4 0 8 3 11zM1055 963c1 3 7 3 8 0");
svg.append("rect").attr("x", 1054).attr("y", 934).attr("width", 22).attr("height", 16).attr("rx", 8).attr("fill", "#f23645");
text(svg, 1065, 946, "59", { size: 11, fill: "#fff", anchor: "middle" });
svg.append("circle").attr("cx", 1058).attr("cy", 998).attr("r", 17).attr("fill", "#1e1e1e");
svg.append("g").attr("fill", "#fff").selectAll("circle").data(d3.cross([1051, 1058, 1065], [991, 998, 1005])).enter().append("circle")
  .attr("cx", function(d) { return d[0]; }).attr("cy", function(d) { return d[1]; }).attr("r", 2.3);
svg.append("line").attr("x1", 1042).attr("x2", 1074).attr("y1", 1028).attr("y2", 1028).attr("stroke", "#e0e3eb");
ring(1058.5, 1056, 14);
text(svg, 1058.5, 1062, "?", { size: 16, anchor: "middle" });

// axis settings
icon("M993 1020l6 3.5v7l-6 3.5-6-3.5v-7z", 1.1); ring(993, 1027, 2, INK, 1.1);

// bottom bar
var ranges = [["1D", 79], ["5D", 109], ["1M", 140], ["3M", 172], ["6M", 204], ["YTD", 239], ["1Y", 272], ["5Y", 300], ["All", 328]];
ranges.forEach(function(d) { text(svg, d[1], 1066, d[0], { size: 13, anchor: "middle" }); });
svg.append("line").attr("x1", 348).attr("x2", 348).attr("y1", 1050).attr("y2", 1072).attr("stroke", "#e0e3eb");
icon("M363 1053h16v16h-6M363 1053v9M367 1050v3M375 1050v3M363 1057h16M362 1065h7M366 1062l3 3-3 3", 1.1);
text(svg, 977, 1066, "18:51:04 UTC+8", { size: 14, anchor: "end" });
svg.append("line").attr("x1", 986).attr("x2", 986).attr("y1", 1050).attr("y2", 1072).attr("stroke", "#e0e3eb");
text(svg, 1008, 1066, "ADJ", { size: 13, anchor: "middle" });
</script>
</body>
</html>
